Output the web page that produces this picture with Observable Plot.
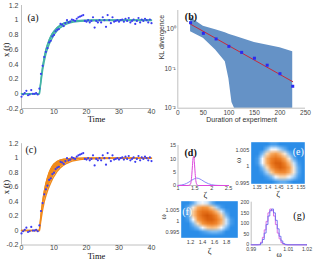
<!DOCTYPE html>
<html><head><meta charset="utf-8">
<script src="https://cdn.jsdelivr.net/npm/d3@7"></script>
<script src="https://cdn.jsdelivr.net/npm/@observablehq/plot@0.6"></script>
<style>
body{margin:0;background:#fff;}
#fig{position:relative;width:320px;height:263px;overflow:hidden;font-family:"Liberation Sans",Arial,sans-serif;}
</style></head><body><div id="fig"></div>
<script>
// ---------- data ----------
const tObs = [0,0.5,1,1.5,2,2.5,3,3.5,4,4.5,5,5.5,6,6.5,7,7.5,8,8.5,9,9.5,10,10.5,11,11.5,12,12.5,13,13.5,14,14.5,15,15.5,16,16.5,17,17.5,18,18.5,19,19.5,20,20.5,21,21.5,22,22.5,23,23.5,24,24.5,25,25.5,26,26.5,27,27.5,28,28.5,29,29.5,30,30.5,31,31.5,32,32.5,33,33.5,34,34.5,35,35.5,36,36.5,37,37.5,38,38.5,39,39.5,40];
const xObs = [-0.04,-0.01,0.01,0.04,-0.02,-0.01,0.05,0.0,0.0,0.01,-0.01,0.07,0.27,0.38,0.50,0.57,0.62,0.70,0.72,0.78,0.80,0.85,0.87,0.88,0.95,0.94,0.92,0.96,1.00,0.97,0.98,1.01,1.00,0.99,1.02,1.04,1.05,1.06,1.07,0.99,0.98,1.00,0.97,0.99,1.04,0.90,0.99,0.97,1.00,0.97,1.04,1.00,0.91,1.07,1.00,0.96,1.04,0.98,0.99,1.00,0.98,1.00,1.01,0.98,1.02,0.99,1.03,0.97,0.99,1.01,0.95,0.99,1.03,0.97,1.01,0.99,1.02,1.00,0.97,1.01,0.96];

const tBand = [0,5.5,6,6.5,7,7.5,8,8.5,9,9.5,10,11,12,13,14,15,16,18,20,22,25,30,35,40];
const aLow  = [0,0,0.16,0.32,0.44,0.54,0.61,0.67,0.72,0.76,0.80,0.86,0.90,0.93,0.95,0.965,0.975,0.985,0.99,0.993,0.995,0.997,0.997,0.997];
const aHigh = [0,0,0.20,0.37,0.50,0.60,0.67,0.73,0.78,0.82,0.85,0.90,0.935,0.96,0.975,0.985,0.99,0.997,1.0,1.003,1.003,1.003,1.003,1.003];
const cLow  = [0,0,0.15,0.29,0.40,0.48,0.55,0.61,0.66,0.71,0.75,0.82,0.87,0.905,0.93,0.95,0.965,0.98,0.99,0.993,0.995,0.997,0.997,0.997];
const cHigh = [0,0,0.22,0.40,0.54,0.65,0.73,0.80,0.85,0.89,0.92,0.955,0.975,0.985,0.99,0.995,0.998,1.0,1.003,1.003,1.003,1.003,1.003,1.003];

const timeTicks = [0,10,20,30,40];
const xtTicks = [-0.2,0,0.2,0.4,0.6,0.8,1,1.2];

// (b) KL divergence
const klDur = [25,50,75,100,125,150,175,200,225];
const klVal = [1.47,0.79,0.57,0.37,0.26,0.185,0.123,0.075,0.036];
const fitDur = [25,225];
const fitVal = [1.35,0.047];
const bandDur = [25,50,74,93,100,106,111,150,200,225];
const bandLo  = [0.87,0.59,0.30,0.15,0.056,0.014,0.01,0.01,0.01,0.01];
const bandHi  = [2.0,1.2,0.97,0.82,0.75,0.71,0.68,0.46,0.34,0.27];
const durTicks = [0,50,100,150,200,250];
const klTicks = [0.01,0.1,1];
const klTickLabels = ["10\u207B\u00B2","10\u207B\u00B9","10\u2070"];

// (d) densities of zeta
const dBlueZ = [1.0,1.1,1.2,1.3,1.4,1.5,1.55,1.6,1.7,1.8,1.9,2.0,2.1,2.2,2.35,2.5];
const dBlueP = [0.05,0.2,0.5,1.1,1.9,2.6,2.8,2.7,2.1,1.3,0.7,0.3,0.1,0.03,0,0];
const dMagZ = [1.0,1.3,1.36,1.39,1.41,1.43,1.45,1.47,1.49,1.51,1.53,1.56,1.6,2.5];
const dMagP = [0,0,0.3,1.5,4,7.5,10.5,11,8,4.5,1.8,0.4,0,0];
const dZTicks = [1,1.5,2,2.5];
const dPTicks = [0,5,10,15];

// (e) joint density (rows top->bottom), zeta 1.3225..1.568, omega 0.9947..1.0073
const eGrid = [
 [0,0,0,0,0.05,0.05,0,0,0,0,0,0],
 [0,0,0,0.15,0.3,0.3,0.2,0.1,0,0,0,0],
 [0,0,0.15,0.4,0.55,0.6,0.5,0.35,0.15,0,0,0],
 [0,0.05,0.3,0.55,0.75,0.85,0.75,0.55,0.35,0.1,0,0],
 [0,0.05,0.3,0.55,0.8,0.95,0.95,0.75,0.5,0.25,0.05,0],
 [0,0,0.15,0.4,0.65,0.85,0.95,0.85,0.6,0.35,0.1,0],
 [0,0,0.05,0.2,0.45,0.6,0.7,0.7,0.55,0.35,0.1,0],
 [0,0,0,0.05,0.15,0.3,0.4,0.4,0.3,0.2,0.05,0],
 [0,0,0,0,0,0.05,0.1,0.1,0.05,0,0,0]
];
const eZ = [1.3225,1.568], eW = [0.9947,1.0073];
const eZTicks = [1.35,1.4,1.45,1.5,1.55];
const wTicks = [0.995,1,1.005];

// (f) joint density, zeta 1.045..1.988, omega 0.9924..1.0093
const fGrid = [
 [0,0,0.1,0.25,0.3,0.25,0.1,0,0,0,0,0],
 [0,0.1,0.35,0.55,0.65,0.6,0.45,0.2,0.05,0,0,0],
 [0,0.15,0.45,0.7,0.85,0.85,0.7,0.5,0.25,0.05,0,0],
 [0,0.1,0.45,0.7,0.9,1.0,0.9,0.7,0.45,0.15,0,0],
 [0,0.05,0.3,0.6,0.8,0.95,0.95,0.8,0.55,0.25,0.05,0],
 [0,0,0.15,0.4,0.6,0.75,0.8,0.7,0.5,0.25,0.05,0],
 [0,0,0.05,0.15,0.3,0.45,0.5,0.45,0.3,0.15,0,0],
 [0,0,0,0,0.05,0.1,0.15,0.15,0.1,0,0,0],
 [0,0,0,0,0,0,0,0,0,0,0,0]
];
const fZ = [1.045,1.988], fW = [0.9924,1.0093];
const fZTicks = [1.2,1.4,1.6,1.8];

// (g) histograms of omega
const gW = [0.990,0.994,0.995,0.996,0.997,0.998,0.999,1.000,1.001,1.002,1.003,1.004,1.005,1.006,1.007,1.008,1.009,1.020];
const gBlue = [0,0,8,25,55,95,135,160,168,150,115,75,40,18,6,2,0,0];
const gMag  = [0,2,12,35,70,110,150,168,160,135,95,55,28,10,3,0,0,0];
const gWTicks = [0.99,1,1.01,1.02];
const gCTicks = [0,50,100,150,200];

// ---------- helpers ----------
const fig = document.getElementById("fig");
const SERIF = "Liberation Serif, DejaVu Serif, serif";
const SANS = "Liberation Sans, Arial, sans-serif";
const AX = "#b0b0b0", TX = "#444";
function place(svg, left, top){
  svg.style.position = "absolute";
  svg.style.left = left + "px";
  svg.style.top = top + "px";
  fig.appendChild(svg);
}
const fmt = d => String(d);
const klFmt = d => klTickLabels[klTicks.findIndex(t => Math.abs(t - d) < 1e-9)] ?? String(d);
const baseStyle = {background:"transparent", overflow:"visible", fontFamily:SANS};
const cmap = {type:"linear", clamp:true,
  domain:[0,0.15,0.3,0.42,0.6,0.8,1],
  range:["#2b8de8","#7fbdf4","#f4f9ff","#fcd6aa","#f59a45","#ec7a20","#d25808"]};

const obs = tObs.map((t,i)=>({t, v:xObs[i]}));
const bandA = tBand.map((t,i)=>({t, lo:aLow[i], hi:aHigh[i]}));
const bandC = tBand.map((t,i)=>({t, lo:cLow[i], hi:cHigh[i]}));

function trajPanel(band, color, label, mt, mb, h, timeDy, labDy){
  return Plot.plot({
    width:160, height:h, marginLeft:21, marginRight:9, marginTop:mt, marginBottom:mb,
    style:baseStyle,
    x:{domain:[0,40]}, y:{domain:[-0.2,1.2]},
    marks:[
      Plot.ruleX([0],{stroke:AX, strokeWidth:0.8}),
      Plot.ruleY([-0.2],{stroke:AX, strokeWidth:0.8}),
      Plot.axisX({ticks:timeTicks, tickSize:0, tickPadding:0.5, fontSize:7, color:TX, label:null, tickFormat:fmt}),
      Plot.axisY({ticks:xtTicks, tickSize:0, tickPadding:3, fontSize:7, color:TX, label:null, tickFormat:fmt}),
      Plot.areaY(band,{x:"t", y1:"lo", y2:"hi", fill:color}),
      Plot.line(band,{x:"t", y:"lo", stroke:color, strokeWidth:1.4}),
      Plot.line(band,{x:"t", y:"hi", stroke:color, strokeWidth:1.4}),
      Plot.dot(obs,{x:"t", y:"v", r:1.1, fill:"#3c3cf2", stroke:"none"}),
      Plot.text([label],{frameAnchor:"top-left", dx:labDy[0], dy:labDy[1], textAnchor:"start", fontSize:10, fontFamily:SERIF, fill:"#111"}),
      Plot.text(["Time"],{frameAnchor:"bottom", dx:10, dy:timeDy, fontSize:8.5, fontFamily:SERIF, fill:"#111"}),
      Plot.text(["x (t)"],{frameAnchor:"left", dx:-15, rotate:-90, fontSize:8.5, fontFamily:SERIF, fill:"#111"})
    ]
  });
}

// (a)
place(trajPanel(bandA, "#45b4a6", "(a)", 5, 17, 125, 13.3, [6,8.5]), 0, 0);
// (c)
place(trajPanel(bandC, "#f08a1c", "(c)", 13.2, 18.5, 133, 13.5, [4,2.5]), 0, 130);

// (b)
const klPts = klDur.map((d,i)=>({d, v:klVal[i]}));
const fitPts = fitDur.map((d,i)=>({d, v:fitVal[i]}));
const klBand = bandDur.map((d,i)=>({d, lo:bandLo[i], hi:bandHi[i]}));
place(Plot.plot({
  width:160, height:125, marginLeft:17.3, marginRight:15, marginTop:10, marginBottom:17.3,
  style:baseStyle,
  x:{domain:[0,250]}, y:{type:"log", domain:[0.01,3]},
  marks:[
    Plot.areaY(klBand,{x:"d", y1:"lo", y2:"hi", fill:"#6592c6"}),
    Plot.ruleX([0],{stroke:AX, strokeWidth:0.8}),
    Plot.ruleY([0.01],{stroke:AX, strokeWidth:0.8}),
    Plot.line(fitPts,{x:"d", y:"v", stroke:"#c8283a", strokeWidth:1}),
    Plot.dot(klPts,{x:"d", y:"v", symbol:"square", r:1.7, fill:"#2a2af2", stroke:"none"}),
    Plot.axisX({ticks:durTicks, tickSize:0, tickPadding:2, fontSize:6.5, color:TX, label:null, tickFormat:fmt}),
    Plot.axisY({ticks:klTicks, tickSize:0, tickPadding:2, fontSize:6.5, color:TX, label:null, tickFormat:klFmt}),
    Plot.text(["(b)"],{frameAnchor:"top-left", dx:7, dy:2, textAnchor:"start", fontSize:10, fontWeight:"bold", fontFamily:SERIF, fill:"#111"}),
    Plot.text(["Duration of experiment"],{frameAnchor:"bottom", dy:14, fontSize:7, fill:"#333"}),
    Plot.text(["KL divergence"],{frameAnchor:"left", dx:-16.5, rotate:-90, fontSize:7, fill:"#333"})
  ]
}), 160, 0);

// (d)
const dBlue = dBlueZ.map((z,i)=>({z, p:dBlueP[i]}));
const dMag = dMagZ.map((z,i)=>({z, p:dMagP[i]}));
place(Plot.plot({
  width:80, height:70, marginLeft:17.5, marginRight:12, marginTop:15, marginBottom:15,
  style:baseStyle,
  x:{domain:[1,2.5]}, y:{domain:[0,15]},
  marks:[
    Plot.ruleX([1],{stroke:AX, strokeWidth:0.8}),
    Plot.ruleY([0],{stroke:AX, strokeWidth:0.8}),
    Plot.line(dBlue,{x:"z", y:"p", stroke:"#8a8af8", strokeWidth:1, curve:"monotone-x"}),
    Plot.line(dMag,{x:"z", y:"p", stroke:"#dc48dc", strokeWidth:1, curve:"monotone-x"}),
    Plot.axisX({ticks:dZTicks, tickSize:0, tickPadding:1, fontSize:5.5, color:TX, label:null, tickFormat:fmt}),
    Plot.axisY({ticks:dPTicks, tickSize:0, tickPadding:2, fontSize:5.5, color:TX, label:null, tickFormat:fmt}),
    Plot.text(["(d)"],{frameAnchor:"top-left", dx:6.5, dy:3, textAnchor:"start", fontSize:10, fontWeight:"bold", fontFamily:SERIF, fill:"#111"}),
    Plot.text(["\u03B6"],{frameAnchor:"bottom", dx:2, dy:12, fontSize:9, fontFamily:SERIF, fill:"#111"})
  ]
}), 160, 130);

// heat map panel builder
function heatPanel(grid, zd, wd, zTicks, label, dims){
  const flat = grid.flat();
  return Plot.plot({
    width:80, height:dims.h, marginLeft:dims.ml, marginRight:dims.mr, marginTop:dims.mt, marginBottom:dims.mb,
    style:baseStyle,
    x:{domain:zd}, y:{domain:wd},
    color:cmap,
    marks:[
      Plot.raster(flat,{width:grid[0].length, height:grid.length, x1:zd[0], x2:zd[1], y1:wd[1], y2:wd[0], fill:d=>d}),
      Plot.axisX({ticks:zTicks, tickSize:0, tickPadding:dims.xp, fontSize:dims.xf, color:TX, label:null, tickFormat:fmt}),
      Plot.axisY({ticks:wTicks, tickSize:0, tickPadding:2, fontSize:5.5, color:TX, label:null, tickFormat:fmt}),
      Plot.text([label],{frameAnchor:dims.la, dx:dims.ldx, dy:dims.ldy, textAnchor:dims.lt, fontSize:10, fontFamily:SERIF, fill:"#fff"}),
      Plot.text(["\u03B6"],{frameAnchor:"bottom", dy:dims.zdy, fontSize:9, fontFamily:SERIF, fill:"#111"}),
      Plot.text(["\u03C9"],{frameAnchor:"left", dx:dims.wdx, rotate:-90, fontSize:8, fontFamily:SERIF, fill:"#111"})
    ]
  });
}
// (e)
place(heatPanel(eGrid, eZ, eW, eZTicks, "(e)",
  {h:70, ml:10.7, mr:15.7, mt:11.7, mb:16.7, xp:1.5, xf:4.6, la:"top-right", ldx:-1, ldy:6, lt:"end", zdy:13, wdx:-13}), 240, 130);
// (f)
place(heatPanel(fGrid, fZ, fW, fZTicks, "(f)",
  {h:68, ml:20.7, mr:2.7, mt:5.7, mb:25.7, xp:2, xf:5.5, la:"top-left", ldx:1, ldy:6.5, lt:"start", zdy:16.5, wdx:-17.5}), 160, 195);

// (g)
const gB = gW.map((w,i)=>({w, c:gBlue[i]}));
const gM = gW.map((w,i)=>({w, c:gMag[i]}));
place(Plot.plot({
  width:80, height:68, marginLeft:10.7, marginRight:13.5, marginTop:6.7, marginBottom:18.7,
  style:baseStyle,
  x:{domain:[0.99,1.02]}, y:{domain:[0,200]},
  marks:[
    Plot.ruleX([0.99],{stroke:AX, strokeWidth:0.8}),
    Plot.ruleY([0],{stroke:AX, strokeWidth:0.8}),
    Plot.line(gM,{x:"w", y:"c", stroke:"#d860e0", strokeWidth:0.9, curve:"step-after"}),
    Plot.line(gB,{x:"w", y:"c", stroke:"#6a6af0", strokeWidth:0.9, curve:"step-after"}),
    Plot.axisX({ticks:gWTicks, tickSize:0, tickPadding:2.5, fontSize:5.2, color:TX, label:null, tickFormat:fmt}),
    Plot.axisY({ticks:gCTicks, tickSize:0, tickPadding:2, fontSize:5.2, color:TX, label:null, tickFormat:fmt}),
    Plot.text(["(g)"],{frameAnchor:"top-right", dx:-2, dy:10, textAnchor:"end", fontSize:10, fontFamily:SERIF, fill:"#111"}),
    Plot.text(["\u03C9"],{frameAnchor:"bottom", dy:12.5, fontSize:8, fontFamily:SERIF, fill:"#111"})
  ]
}), 240, 195);
</script></body></html>
